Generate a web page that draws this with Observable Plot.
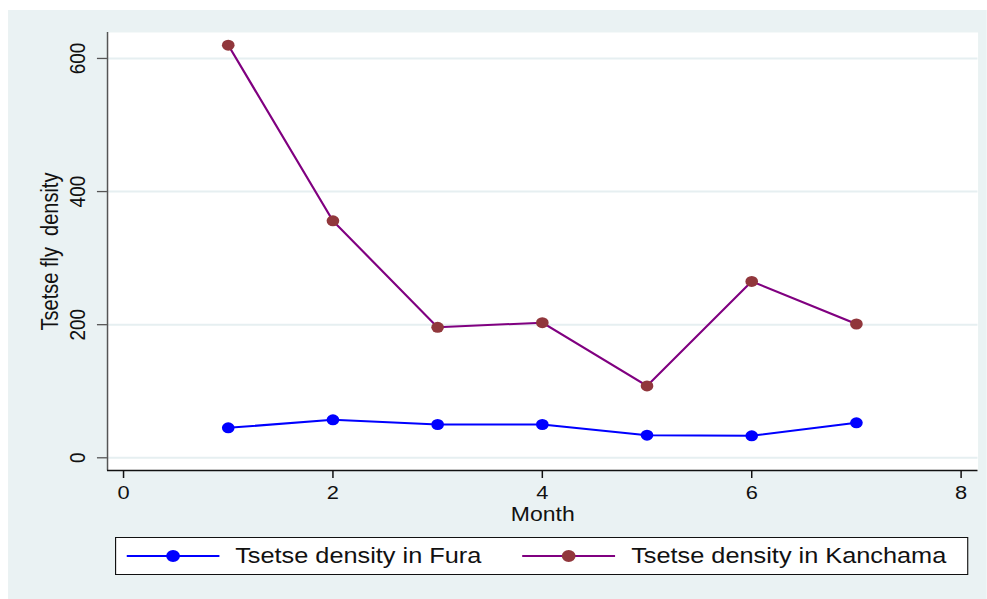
<!DOCTYPE html>
<html>
<head>
<meta charset="utf-8">
<script src="https://cdn.jsdelivr.net/npm/d3@7"></script>
<script src="https://cdn.jsdelivr.net/npm/@observablehq/plot@0.6"></script>
<style>
  html, body { margin: 0; padding: 0; background: #ffffff; }
  #root { position: absolute; left: 0; top: 0; width: 858.3px; height: 599px;
          transform: scaleX(1.15); transform-origin: 0 0;
          font-family: "Liberation Sans", Arial, sans-serif; }
  #panel { position: absolute; left: 7px; top: 10px; width: 851.3px; height: 589px; background: #EAF2F3; }
  #chart { position: absolute; left: 0; top: 0; }
  #legend { position: absolute; left: 93px; top: 527px; width: 741.7px; height: 38px;
            box-sizing: border-box; border: 1.3px solid #111; background: #ffffff;
            display: flex; padding-left: 9px; }
  .item { width: 344.4px; height: 100%; display: flex; align-items: center;
          font-size: 22px; color: #111; white-space: nowrap; }
  .item svg { flex: none; margin-right: 13.5px; }
</style>
</head>
<body>
<div id="root">
  <div id="panel">
    <div id="chart"></div>
    <div id="legend"></div>
  </div>
</div>
<script>
// ---- data ----
const months   = [1, 2, 3, 4, 5, 6, 7];
const fura     = [45, 57, 50, 50, 34, 33, 52.5];
const kanchama = [620, 356, 196, 203, 108, 265, 201];
const seriesNames = ["Tsetse density in Fura", "Tsetse density in Kanchama"];
const seriesValues = [fura, kanchama];
const lineColors = ["#0000FF", "#800080"];
const dotColors  = ["#0000FF", "#91373C"];
const xTicks = [0, 2, 4, 6, 8];
const yTicks = [0, 200, 400, 600];
const xDomain = [-0.153, 8.162];
const yDomain = [-19.1, 639];
const xLabel = "Month";
const yLabel = "Tsetse fly\u00a0 density";

const rows = seriesNames.flatMap((s, k) =>
  months.map((m, i) => ({ month: m, value: seriesValues[k][i], series: s })));

const seriesMarks = seriesNames.flatMap((s, k) => {
  const d = rows.filter(r => r.series === s);
  return [
    Plot.line(d, { x: "month", y: "value", stroke: lineColors[k], strokeWidth: 2 }),
    Plot.dot(d, { x: "month", y: "value", r: 5.5, fill: dotColors[k], stroke: "none" })
  ];
});

const chart = Plot.plot({
  width: 851,
  height: 520,
  marginLeft: 86,
  marginRight: 8,
  marginTop: 22,
  marginBottom: 60,
  x: { domain: xDomain },
  y: { domain: yDomain },
  style: { background: "transparent", fontFamily: "'Liberation Sans', Arial, sans-serif", color: "#111", overflow: "visible" },
  marks: [
    Plot.frame({ fill: "white", stroke: "none" }),
    Plot.ruleY(yTicks, { stroke: "#E6EFF1", strokeWidth: 2 }),
    Plot.ruleX([xDomain[0]], { stroke: "#555", strokeWidth: 1.3 }),
    Plot.ruleY([yDomain[0]], { stroke: "#111", strokeWidth: 1.3 }),
    Plot.axisY({ ticks: yTicks, tickSize: 8.7, fill: "none", stroke: "#555", strokeWidth: 1.3, label: null }),
    Plot.axisX({ ticks: xTicks, tickSize: 8, fill: "none", stroke: "#111", strokeWidth: 1.3, label: null }),
    Plot.text(yTicks, { y: d => d, text: d => String(d), frameAnchor: "left", dx: -25.6, rotate: -90,
                        textAnchor: "middle", lineAnchor: "middle", fontSize: 19, fill: "#111" }),
    Plot.text(xTicks, { x: d => d, text: d => String(d), frameAnchor: "bottom", dy: 22.5,
                        textAnchor: "middle", lineAnchor: "middle", fontSize: 19, fill: "#111" }),
    Plot.text([xLabel], { frameAnchor: "bottom", dy: 44.5, textAnchor: "middle", lineAnchor: "middle", fontSize: 20, fill: "#111" }),
    Plot.text([yLabel], { frameAnchor: "left", dx: -49.5, rotate: -90, textAnchor: "middle", lineAnchor: "middle", fontSize: 20, fill: "#111" }),
    ...seriesMarks
  ]
});
document.getElementById("chart").appendChild(chart);

// ---- legend ----
const legend = d3.select("#legend");
seriesNames.forEach((s, k) => {
  const item = legend.append("div").attr("class", "item");
  const sw = item.append("svg").attr("width", 81).attr("height", 20);
  sw.append("line").attr("x1", 0).attr("x2", 81).attr("y1", 10).attr("y2", 10)
    .attr("stroke", lineColors[k]).attr("stroke-width", 2);
  sw.append("circle").attr("cx", 40.5).attr("cy", 10).attr("r", 6).attr("fill", dotColors[k]);
  item.append("span").text(s);
});
</script>
</body>
</html>
